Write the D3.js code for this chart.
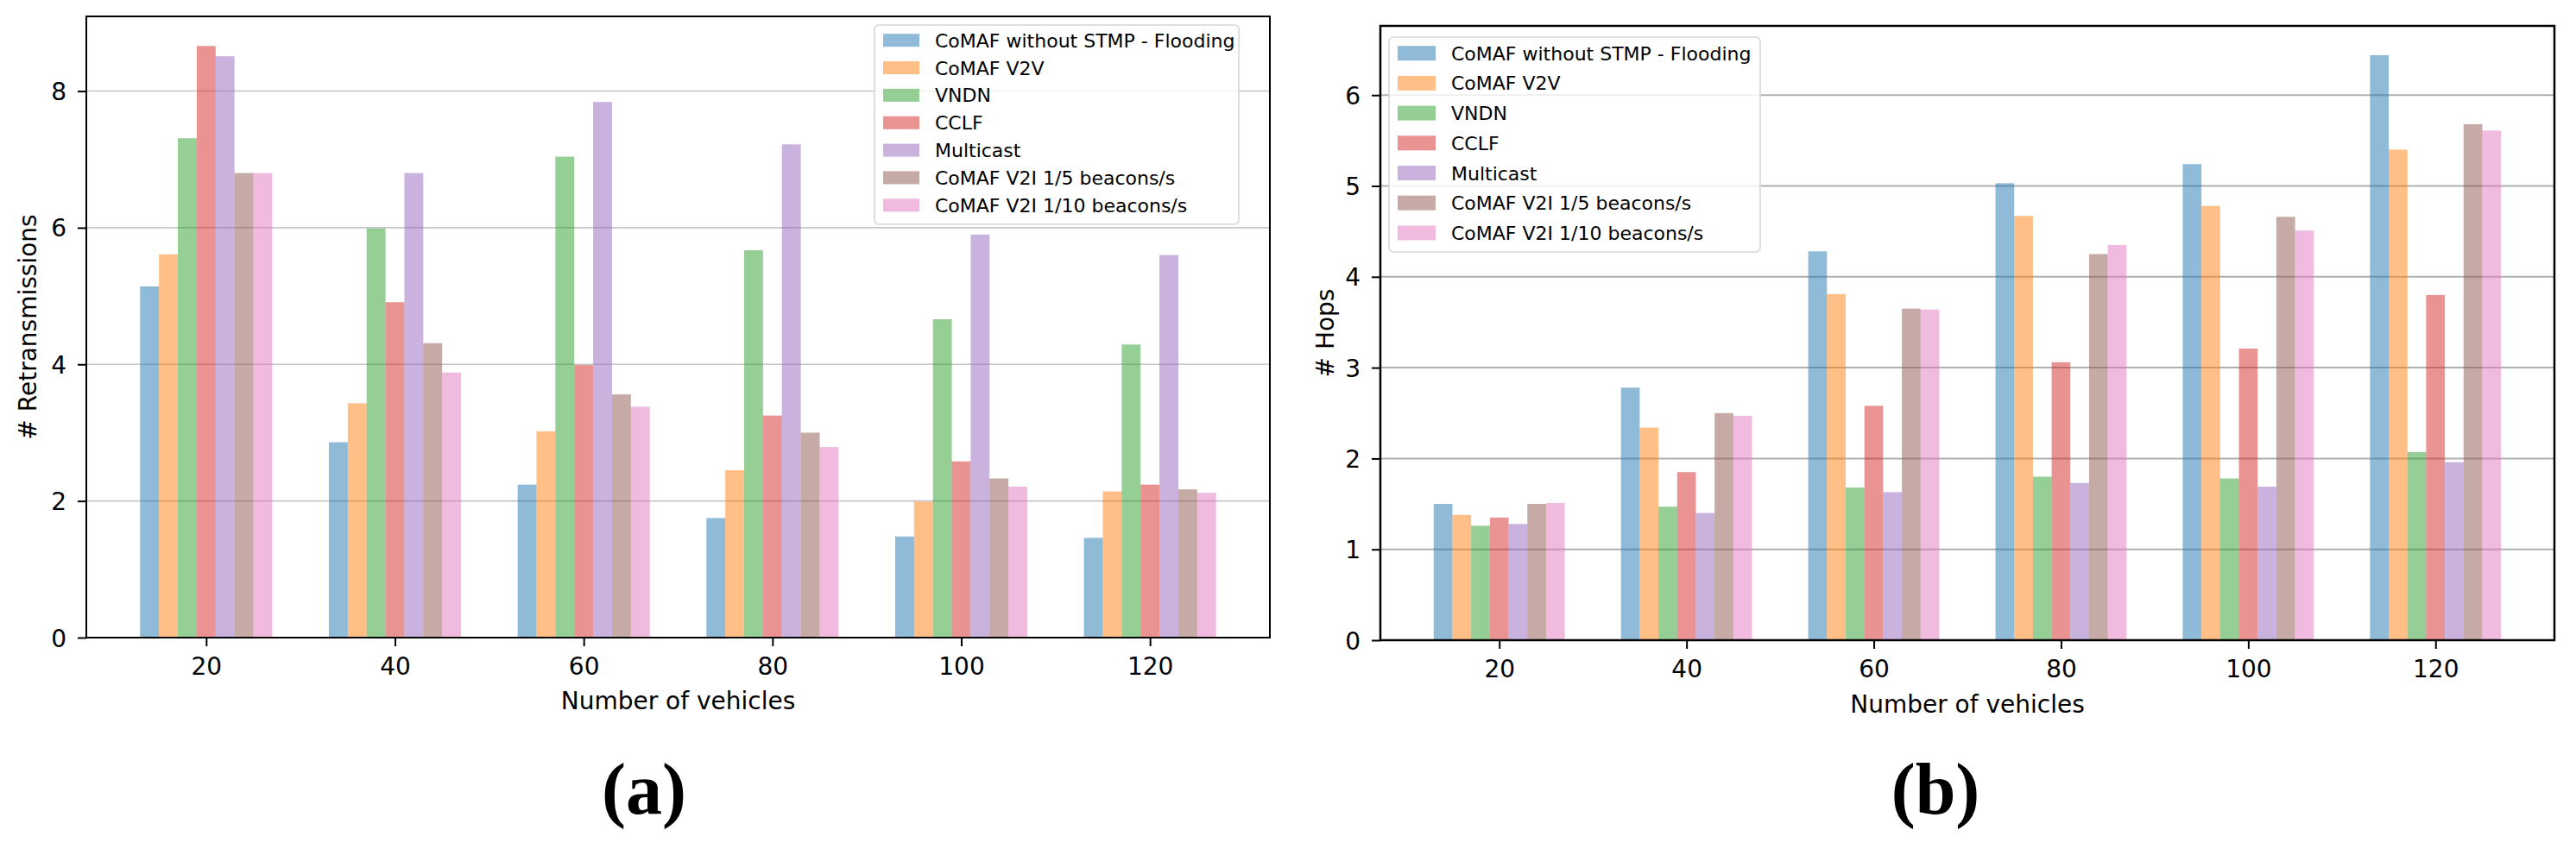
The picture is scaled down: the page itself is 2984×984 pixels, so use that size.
<!DOCTYPE html>
<html>
<head>
<meta charset="utf-8">
<script src="https://cdn.jsdelivr.net/npm/d3@7"></script>
<style>
  body { margin: 0; background: #fff; }
  svg { display: block; }
</style>
</head>
<body>
<svg id="fig" width="2984" height="984"></svg>
<script>
// ─── Data ───
var categories = [20, 40, 60, 80, 100, 120];
var seriesNames = [
  'CoMAF without STMP - Flooding',
  'CoMAF V2V',
  'VNDN',
  'CCLF',
  'Multicast',
  'CoMAF V2I 1/5 beacons/s',
  'CoMAF V2I 1/10 beacons/s'
];
var seriesColors = ['#1f77b4', '#ff7f0e', '#2ca02c', '#d62728', '#9467bd', '#8c564b', '#e377c2'];

// (a) retransmissions, one array per series
var retransFlooding  = [5.14, 2.86, 2.24, 1.75, 1.48, 1.46];
var retransV2V       = [5.61, 3.43, 3.02, 2.45, 1.99, 2.14];
var retransVNDN      = [7.31, 5.99, 7.04, 5.67, 4.66, 4.29];
var retransCCLF      = [8.66, 4.91, 3.99, 3.25, 2.58, 2.24];
var retransMulticast = [8.51, 6.80, 7.84, 7.22, 5.90, 5.60];
var retransV2I5      = [6.80, 4.31, 3.56, 3.00, 2.33, 2.17];
var retransV2I10     = [6.80, 3.88, 3.38, 2.79, 2.21, 2.12];

// (b) hops
var hopsFlooding  = [1.50, 2.78, 4.28, 5.03, 5.24, 6.44];
var hopsV2V       = [1.38, 2.34, 3.81, 4.67, 4.78, 5.40];
var hopsVNDN      = [1.26, 1.47, 1.68, 1.80, 1.78, 2.07];
var hopsCCLF      = [1.35, 1.85, 2.58, 3.06, 3.21, 3.80];
var hopsMulticast = [1.28, 1.40, 1.63, 1.73, 1.69, 1.96];
var hopsV2I5      = [1.50, 2.50, 3.65, 4.25, 4.66, 5.68];
var hopsV2I10     = [1.51, 2.47, 3.64, 4.35, 4.51, 5.61];

var retransTicks = [0, 2, 4, 6, 8];
var hopsTicks = [0, 1, 2, 3, 4, 5, 6];

var FONT = 'DejaVu Sans';
var BAR_W = 2; // bar width in x data units

var svg = d3.select('#fig');

function drawPanel(opt) {
  var series = opt.series;
  var n = series.length;
  var maxVal = d3.max(series, function(s) { return d3.max(s); });

  // matplotlib style autoscale margins
  var lo = d3.min(categories) - BAR_W * n / 2, hi = d3.max(categories) + BAR_W * n / 2;
  var pad = (hi - lo) * 0.05;
  var x = d3.scaleLinear().domain([lo - pad, hi + pad]).range([opt.left, opt.right]);
  var y = d3.scaleLinear().domain([0, maxVal * 1.05]).range([opt.bottom, opt.top]);

  var g = svg.append('g');

  // grid
  g.append('g').selectAll('line').data(opt.ticks.slice(1)).join('line')
    .attr('x1', opt.left).attr('x2', opt.right)
    .attr('y1', function(d) { return y(d); }).attr('y2', function(d) { return y(d); })
    .attr('stroke', opt.gridColor).attr('stroke-width', opt.gridWidth);

  // bars
  series.forEach(function(vals, i) {
    var off = (i - (n - 1) / 2) * BAR_W;
    g.append('g').selectAll('rect').data(vals).join('rect')
      .attr('x', function(d, j) { return x(categories[j] + off - BAR_W / 2); })
      .attr('width', x(BAR_W) - x(0))
      .attr('y', function(d) { return y(d); })
      .attr('height', function(d) { return y(0) - y(d); })
      .attr('fill', seriesColors[i]).attr('fill-opacity', 0.5);
  });

  // axes
  var xAxis = d3.axisBottom(x).tickValues(categories).tickSize(10).tickSizeOuter(0).tickPadding(8);
  var ax = g.append('g').attr('transform', 'translate(0,' + opt.bottom + ')').call(xAxis);
  ax.select('.domain').remove();
  ax.selectAll('line').attr('stroke', '#000').attr('stroke-width', 2);
  ax.selectAll('text').attr('font-family', FONT).attr('font-size', 28).attr('fill', '#000')
    .attr('dy', null).attr('y', 43);

  var yAxis = d3.axisLeft(y).tickValues(opt.ticks).tickSize(10).tickSizeOuter(0).tickFormat(d3.format('d'));
  var ay = g.append('g').attr('transform', 'translate(' + opt.left + ',0)').call(yAxis);
  ay.select('.domain').remove();
  ay.selectAll('line').attr('stroke', '#000').attr('stroke-width', 2);
  ay.selectAll('text').attr('font-family', FONT).attr('font-size', 28).attr('fill', '#000')
    .attr('dy', null).attr('y', 10).attr('x', -23);

  // frame
  g.append('rect').attr('x', opt.left).attr('y', opt.top)
    .attr('width', opt.right - opt.left).attr('height', opt.bottom - opt.top)
    .attr('fill', 'none').attr('stroke', '#000').attr('stroke-width', opt.frameWidth);

  // axis labels
  g.append('text').attr('x', (opt.left + opt.right) / 2).attr('y', opt.xLabelY)
    .attr('text-anchor', 'middle').attr('font-family', FONT).attr('font-size', 28)
    .text('Number of vehicles');
  g.append('text').attr('transform', 'translate(' + opt.yLabelX + ',' + (opt.top + opt.bottom) / 2 + ') rotate(-90)')
    .attr('text-anchor', 'middle').attr('font-family', FONT).attr('font-size', 28)
    .text(opt.yLabel);

  // legend
  var L = opt.legend;
  g.append('rect').attr('x', L.x).attr('y', L.y).attr('width', L.w).attr('height', L.h)
    .attr('rx', 5).attr('fill', '#fff').attr('fill-opacity', 0.8)
    .attr('stroke', '#d6d6d6').attr('stroke-width', 1.6);
  seriesNames.forEach(function(name, i) {
    var cy = L.firstRow + i * L.rowGap;
    g.append('rect').attr('x', L.x + 10).attr('y', cy - L.swH / 2)
      .attr('width', L.swW).attr('height', L.swH)
      .attr('fill', seriesColors[i]).attr('fill-opacity', 0.5);
    g.append('text').attr('x', L.textX).attr('y', cy + 8)
      .attr('font-family', FONT).attr('font-size', 22).attr('fill', '#000').text(name);
  });

  // caption
  svg.append('text').attr('x', opt.captionX).attr('y', 943).attr('text-anchor', 'middle')
    .attr('font-family', 'Liberation Serif').attr('font-weight', 'bold').attr('font-size', 84)
    .text(opt.caption);
}

drawPanel({
  series: [retransFlooding, retransV2V, retransVNDN, retransCCLF, retransMulticast, retransV2I5, retransV2I10],
  ticks: retransTicks,
  left: 100, right: 1471, top: 19, bottom: 739,
  gridColor: '#c6c6c6', gridWidth: 1.6, frameWidth: 2,
  xLabelY: 822, yLabelX: 42, yLabel: '# Retransmissions',
  legend: { x: 1013, y: 29, w: 422, h: 231, firstRow: 46.7, rowGap: 31.85, swW: 42, swH: 15, textX: 1083 },
  caption: '(a)', captionX: 746
});

drawPanel({
  series: [hopsFlooding, hopsV2V, hopsVNDN, hopsCCLF, hopsMulticast, hopsV2I5, hopsV2I10],
  ticks: hopsTicks,
  left: 1599, right: 2959, top: 30, bottom: 742,
  gridColor: '#b0b0b0', gridWidth: 2, frameWidth: 2.5,
  xLabelY: 826, yLabelX: 1545, yLabel: '# Hops',
  legend: { x: 1609, y: 43, w: 430, h: 249, firstRow: 61.7, rowGap: 34.7, swW: 44, swH: 17, textX: 1681 },
  caption: '(b)', captionX: 2242
});
</script>
</body>
</html>
